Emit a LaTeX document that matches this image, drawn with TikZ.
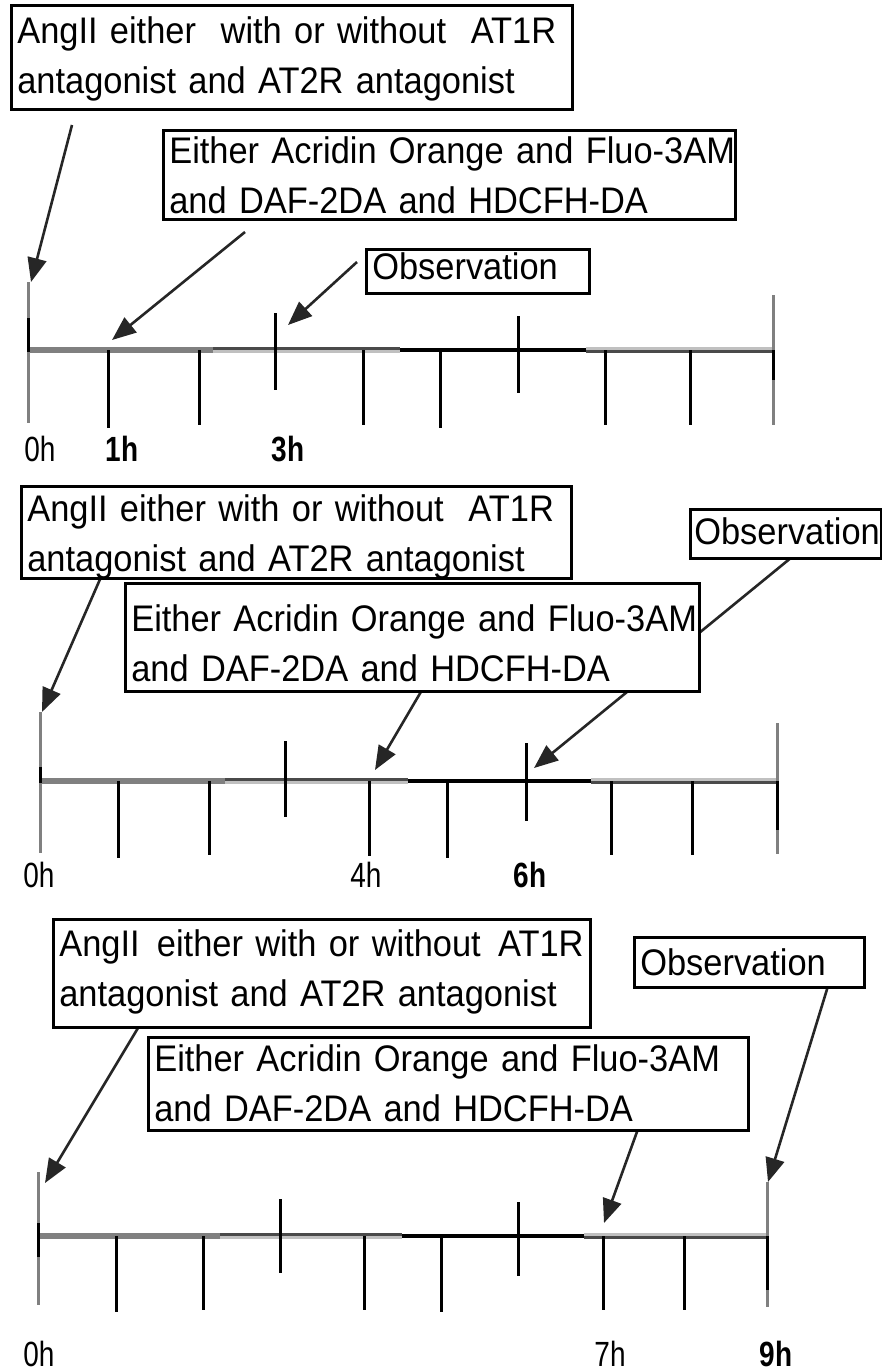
\documentclass[tikz,border=0pt]{standalone}
\usepackage{fontspec}
\newfontfamily\bxfont[FakeStretch=0.93]{Liberation Sans}
\newfontfamily\lbfont[FakeStretch=0.8]{Liberation Sans}
\usetikzlibrary{arrows.meta}
\definecolor{tlgray}{HTML}{808080}
\definecolor{tllight}{HTML}{C0C0C0}
\definecolor{tldark}{HTML}{4A4A4A}
\begin{document}
\begin{tikzpicture}[x=1pt,y=-1pt,
  box/.style={draw=black, line width=2.6pt, fill=white, anchor=north west,
    inner xsep=6pt, inner ysep=0pt, align=left,
    font=\bxfont\fontsize{37}{50}\selectfont},
  arr/.style={line width=2.6pt, draw=black!85, -{Triangle[length=24pt,width=19pt]}},
  tick/.style={line width=3pt, draw=black},
  endtick/.style={line width=3pt, draw=tlgray},
  lab/.style={anchor=base, inner sep=0pt, font=\lbfont\fontsize{35}{35}\selectfont},
  labb/.style={anchor=base, inner sep=0pt, font=\lbfont\bfseries\fontsize{35}{35}\selectfont}
]
\fill[white] (0,0) rectangle (882,1371);
\useasboundingbox (0,0) rectangle (882,1371);

% ---------- timelines ----------
% panel 1
\draw[tlgray, line width=6pt] (27,350) -- (213,350);
\draw[tldark, line width=3pt] (213,348.5) -- (400,348.5);
\draw[tllight, line width=3pt] (213,351.5) -- (400,351.5);
\draw[black, line width=4.5pt] (400,350) -- (586,350);
\draw[tllight, line width=3pt] (586,348.5) -- (772,348.5);
\draw[tldark, line width=3pt] (586,351.5) -- (772,351.5);
\foreach \x/\a/\b in {108/350/428, 199/350/425, 275/313/390, 363/350/425, 440/350/428, 518/316/393, 605/350/425, 690/350/425}
  \draw[tick] (\x,\a) -- (\x,\b);
\draw[endtick] (28,282) -- (28,423); \draw[tick] (28,318) -- (28,352);
\draw[endtick] (773,295) -- (773,425); \draw[tick] (773,350) -- (773,380);
% panel 2
\draw[tlgray, line width=6pt] (39,781) -- (225,781);
\draw[tldark, line width=3pt] (225,779.5) -- (408,779.5);
\draw[tllight, line width=3pt] (225,782.5) -- (408,782.5);
\draw[black, line width=4.5pt] (408,781) -- (591,781);
\draw[tllight, line width=3pt] (591,779.5) -- (777,779.5);
\draw[tldark, line width=3pt] (591,782.5) -- (777,782.5);
\foreach \x/\a/\b in {118/781/858, 209/781/855, 285/741/817, 369/781/856, 447/781/858, 526/743/821, 611/781/855, 692/781/855}
  \draw[tick] (\x,\a) -- (\x,\b);
\draw[endtick] (40,712) -- (40,853); \draw[tick] (40,767) -- (40,783);
\draw[endtick] (777,723) -- (777,854); \draw[tick] (777,781) -- (777,830);
% panel 3
\draw[tlgray, line width=6pt] (37,1236) -- (220,1236);
\draw[tldark, line width=3pt] (220,1234.5) -- (402,1234.5);
\draw[tllight, line width=3pt] (220,1237.5) -- (402,1237.5);
\draw[black, line width=4.5pt] (402,1236) -- (584,1236);
\draw[tllight, line width=3pt] (584,1234.5) -- (767,1234.5);
\draw[tldark, line width=3pt] (584,1237.5) -- (767,1237.5);
\foreach \x/\a/\b in {116/1236/1312, 203/1236/1310, 280/1199/1273, 364/1236/1310, 441/1236/1312, 518/1202/1276, 603/1236/1310, 684/1236/1310}
  \draw[tick] (\x,\a) -- (\x,\b);
\draw[endtick] (38,1172) -- (38,1305); \draw[tick] (38,1223) -- (38,1257);
\draw[endtick] (767,1182) -- (767,1307); \draw[tick] (767,1236) -- (767,1290);

% ---------- time labels ----------
\node[lab]  (l10) at (40,461)  {0h};
\node[labb] (l11) at (122,461) {1h};
\node[labb] (l13) at (288,461) {3h};
\node[lab]  (l20) at (39,887)  {0h};
\node[lab]  (l24) at (366,887) {4h};
\node[labb] (l26) at (530,887) {6h};
\node[lab]  (l30) at (39,1366) {0h};
\node[lab]  (l37) at (610,1366) {7h};
\node[labb] (l39) at (776,1366) {9h};

% ---------- arrow end points ----------
\coordinate (a1s) at (72,125);   \coordinate (a1t) at (31,282);
\coordinate (b1s) at (245,232);  \coordinate (b1t) at (112,340);
\coordinate (c1s) at (357,262);  \coordinate (c1t) at (288,325);
\coordinate (a2s) at (101,577);  \coordinate (a2t) at (42,712);
\coordinate (b2s) at (422,690);  \coordinate (b2t) at (375,770);
\coordinate (c2s) at (792,557);  \coordinate (c2t) at (534,768);
\coordinate (a3s) at (138,1028); \coordinate (a3t) at (45,1183);
\coordinate (b3s) at (638,1129); \coordinate (b3t) at (604,1223);
\coordinate (c3s) at (828,986);  \coordinate (c3t) at (768,1182);

\draw[arr] (a1s) -- (a1t);
\draw[arr] (b1s) -- (b1t);
\draw[arr] (c1s) -- (c1t);
\draw[arr] (a2s) -- (a2t);
\draw[arr] (b2s) -- (b2t);
\draw[arr] (c2s) -- (c2t);
\draw[arr] (a3s) -- (a3t);
\draw[arr] (b3s) -- (b3t);
\draw[arr] (c3s) -- (c3t);

% ---------- boxes ----------
\node[box, text width=549pt, minimum height=104pt, text height=0pt, text depth=28pt] (A1) at (10,4)
  {\mbox{AngII either\ \ with or without\ \ AT1R}\\\mbox{antagonist and AT2R antagonist}};
\node[box, text width=560pt, minimum height=89pt, text height=0pt, text depth=23pt] (B1) at (162,129)
  {\mbox{Either Acridin Orange and Fluo-3AM}\\\mbox{and DAF-2DA and HDCFH-DA}};
\node[box, text width=211pt, minimum height=44pt, text height=16pt, text depth=0pt] (C1) at (365,248)
  {\mbox{Observation}};

\node[box, text width=538pt, minimum height=92pt, text height=0pt, text depth=22pt] (A2) at (20,485)
  {\mbox{AngII either with or without\ \ AT1R}\\\mbox{antagonist and AT2R antagonist}};
\node[box, text width=562pt, minimum height=108pt, text height=0pt, text depth=12pt] (B2) at (124,582)
  {\mbox{Either Acridin Orange and Fluo-3AM}\\\mbox{and DAF-2DA and HDCFH-DA}};
\node[box, inner xsep=4pt, text width=183pt, minimum height=49pt, text height=21pt, text depth=0pt] (C2) at (689,508)
  {\mbox{Observation}};

\node[box, text width=525pt, minimum height=108pt, text height=0pt, text depth=34pt] (A3) at (52,918)
  {\mbox{AngII\hspace{5pt} either with or without\hspace{5pt} AT1R}\\\mbox{antagonist and AT2R antagonist}};
\node[box, text width=588pt, minimum height=93pt, text height=0pt, text depth=25pt] (B3) at (147,1036)
  {\mbox{Either Acridin Orange and Fluo-3AM}\\\mbox{and DAF-2DA and HDCFH-DA}};
\node[box, text width=218pt, minimum height=50pt, text height=26pt, text depth=0pt] (C3) at (633,936)
  {\mbox{Observation}};
\end{tikzpicture}
\end{document}
